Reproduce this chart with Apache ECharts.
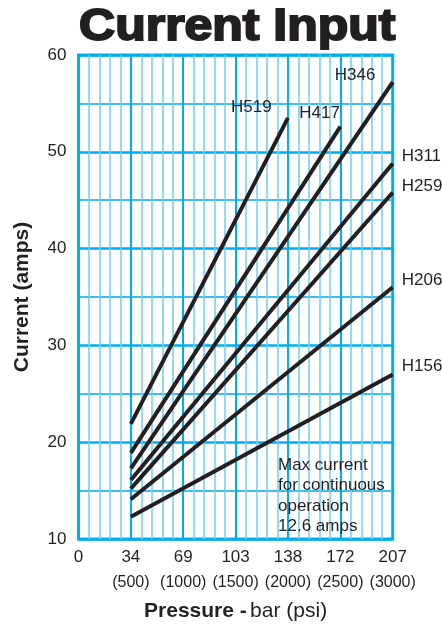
<!DOCTYPE html>
<html>
<head>
<meta charset="utf-8">
<script src="https://cdn.jsdelivr.net/npm/echarts@6/dist/echarts.min.js"></script>
<style>
html,body{margin:0;padding:0;background:#fff;}
#c{width:442px;height:627px;}
</style>
</head>
<body>
<div id="c"></div>
<script>
// ---- data ----
var seriesNames = ['H519', 'H417', 'H346', 'H311', 'H259', 'H206', 'H156'];
var startPsi = [500, 500, 500, 500, 500, 500, 500];
var startAmps = [21.9, 18.9, 17.3, 16.1, 15.2, 14.1, 12.3];
var endPsi = [2000, 2500, 3000, 3000, 3000, 3000, 3000];
var endAmps = [53.5, 52.6, 57.2, 48.8, 45.8, 36.0, 27.0];
var xTickPsi = [0, 500, 1000, 1500, 2000, 2500, 3000];
var xTickBar = ['0', '34', '69', '103', '138', '172', '207'];
var xTickPsiLabel = ['', '(500)', '(1000)', '(1500)', '(2000)', '(2500)', '(3000)'];
var noteLines = ['Max current', 'for continuous', 'operation', '12.6 amps'];

// ---- layout: label offset from line end [to text left, to text middle] ----
var labelOffset = {
  H519: [-57, -11],
  H417: [-41, -13],
  H346: [-58, -7],
  H311: [9, -7],
  H259: [9, -6],
  H206: [9, -7],
  H156: [9, -8]
};

var sans = '"Liberation Sans", Arial, sans-serif';
var ink = '#231f20';
var blue = '#00aeef';
var lightBlue = '#6dcff6';

var chart = echarts.init(document.getElementById('c'), null, {renderer: 'canvas'});

var series = seriesNames.map(function (name, i) {
  return {
    name: name,
    type: 'line',
    symbol: 'none',
    silent: true,
    animation: false,
    lineStyle: {color: ink, width: 4, cap: 'butt'},
    endLabel: {
      show: true,
      formatter: name,
      distance: 0,
      offset: labelOffset[name],
      align: 'left',
      verticalAlign: 'middle',
      color: ink,
      fontFamily: sans,
      fontSize: 17
    },
    data: [
      [startPsi[i], startAmps[i]],
      [endPsi[i], endAmps[i]]
    ],
    z: 5
  };
});

var option = {
  animation: false,
  backgroundColor: '#fff',
  graphic: [
    {
      type: 'text',
      left: 78,
      top: 4,
      scaleX: 1.11,
      style: {
        text: 'Current Input',
        font: 'bold 45px "Liberation Sans", Arial, sans-serif',
        fill: ink,
        stroke: ink,
        lineWidth: 2
      }
    },
    {
      type: 'text',
      left: 278,
      top: 455,
      z: 10,
      style: {
        text: noteLines.join('\n'),
        font: '17px ' + sans,
        lineHeight: 20.5,
        fill: ink
      }
    }
  ],
  grid: {
    left: 78.5,
    right: 49.3,
    top: 55,
    bottom: 87,
    show: true,
    borderColor: blue,
    borderWidth: 3,
    backgroundColor: 'transparent'
  },
  xAxis: {
    type: 'value',
    min: 0,
    max: 3000,
    interval: 500,
    axisLine: {show: false},
    axisTick: {show: false},
    splitLine: {show: true, lineStyle: {color: blue, width: 2}},
    minorTick: {show: false, splitNumber: 5},
    minorSplitLine: {show: true, lineStyle: {color: lightBlue, width: 1.5}},
    axisLabel: {
      margin: 5,
      showMinLabel: true,
      showMaxLabel: true,
      hideOverlap: false,
      formatter: function (v) {
        var k = xTickPsi.indexOf(v);
        if (k < 0) return '';
        return '{a|' + xTickBar[k] + '}\n{b|' + (xTickPsiLabel[k] || ' ') + '}';
      },
      rich: {
        a: {fontFamily: sans, fontSize: 17, color: ink, lineHeight: 26, align: 'center'},
        b: {fontFamily: sans, fontSize: 16, color: ink, lineHeight: 26, align: 'center'}
      }
    },
    name: '{b|Pressure -} {r|bar (psi)}',
    nameLocation: 'middle',
    nameGap: 62,
    nameTextStyle: {
      rich: {
        b: {fontFamily: sans, fontWeight: 'bold', fontSize: 21, color: ink},
        r: {fontFamily: sans, fontSize: 21, color: ink}
      }
    }
  },
  yAxis: {
    type: 'value',
    min: 10,
    max: 60,
    interval: 10,
    axisLine: {show: false},
    axisTick: {show: false},
    splitLine: {show: true, lineStyle: {color: blue, width: 2.5}},
    minorTick: {show: false, splitNumber: 2},
    minorSplitLine: {show: true, lineStyle: {color: '#3fbdef', width: 2}},
    axisLabel: {
      margin: 12,
      fontFamily: sans,
      fontSize: 17,
      color: ink
    },
    name: 'Current (amps)',
    nameLocation: 'middle',
    nameRotate: 90,
    nameGap: 46,
    nameTextStyle: {fontFamily: sans, fontWeight: 'bold', fontSize: 21, color: ink}
  },
  series: series
};

chart.setOption(option);
</script>
</body>
</html>
